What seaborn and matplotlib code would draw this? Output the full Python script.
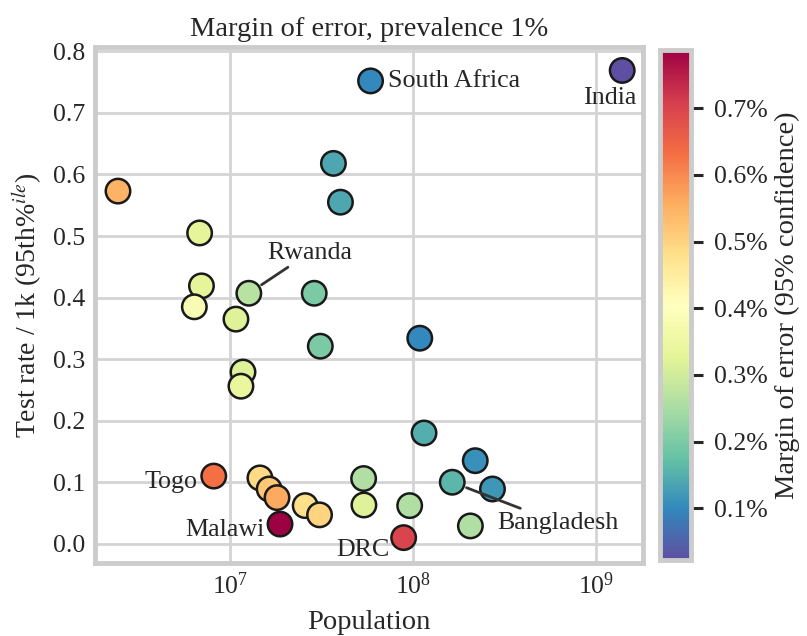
import numpy as np
import matplotlib
matplotlib.use("Agg")
import matplotlib.pyplot as plt
import matplotlib.ticker as mticker
import seaborn as sns

# Countries (population, test rate per 1k, margin of error in %)
population = [2.45e6, 6.84e6, 7.0e6, 6.4e6, 1.08e7, 1.27e7, 1.18e7, 1.15e7,
              2.89e7, 3.12e7, 3.68e7, 4.02e7, 5.87e7, 1.39e9, 1.09e8, 1.15e8,
              2.19e8, 1.64e8, 2.72e8, 2.06e8, 9.6e7, 8.9e7, 5.38e7, 5.4e7,
              8.17e6, 1.46e7, 1.64e7, 1.81e7, 1.88e7, 2.58e7, 3.09e7]
test_rate = [0.573, 0.505, 0.419, 0.385, 0.365, 0.407, 0.279, 0.256,
             0.407, 0.321, 0.618, 0.555, 0.752, 0.769, 0.334, 0.180,
             0.135, 0.100, 0.089, 0.029, 0.062, 0.010, 0.106, 0.063,
             0.110, 0.107, 0.089, 0.075, 0.032, 0.062, 0.047]
margin = [0.55, 0.33, 0.33, 0.38, 0.32, 0.27, 0.32, 0.34,
          0.20, 0.20, 0.14, 0.14, 0.10, 0.022, 0.10, 0.15,
          0.11, 0.16, 0.12, 0.26, 0.26, 0.70, 0.26, 0.32,
          0.63, 0.49, 0.52, 0.56, 0.787, 0.48, 0.50]
margin_min, margin_max = 0.022, 0.787

sns.set_theme(style="whitegrid", context="talk")
plt.rcParams["font.family"] = ["Liberation Serif", "DejaVu Serif"]
plt.rcParams["mathtext.fontset"] = "stix"

fig = plt.figure(figsize=(8.07, 6.36), dpi=100)
ax = fig.add_axes([0.118, 0.115, 0.679, 0.811])
cax = fig.add_axes([0.818, 0.119, 0.038, 0.802])

sns.scatterplot(x=population, y=test_rate, hue=margin, palette="Spectral_r",
                hue_norm=(margin_min, margin_max), s=310, edgecolor="#1a1a1a",
                linewidth=1.8, legend=False, ax=ax, zorder=3)

ax.set_xscale("log")
ax.set_xlim(1.84e6, 1.81e9)
ax.set_ylim(-0.031, 0.807)
ax.xaxis.set_major_locator(mticker.LogLocator(base=10, numticks=10))
ax.xaxis.set_minor_locator(mticker.NullLocator())
ax.set_yticks(np.arange(0, 0.81, 0.1))
ax.yaxis.set_major_formatter(mticker.FormatStrFormatter("%.1f"))
ax.tick_params(labelsize=18.5, length=0, pad=7)
for sp in ax.spines.values():
    sp.set_color("#cccccc")
    sp.set_linewidth(3.5)
ax.grid(color="#d4d4d4", linewidth=2)

ax.set_xlabel("Population", fontsize=20.5, labelpad=8)
ax.set_ylabel("Test rate / 1k (95th%$^{ile}$)", fontsize=20, labelpad=6)
ax.set_title("Margin of error, prevalence 1%", fontsize=20.5, pad=8)

# country labels
txt = dict(fontsize=18.7, color="#262626", zorder=4)
ax.text(7.3e7, 0.752, "South Africa", ha="left", va="center", **txt)
ax.text(1.19e9, 0.724, "India", ha="center", va="center", **txt)
ax.text(6.67e6, 0.100, "Togo", ha="right", va="center", **txt)
ax.text(1.54e7, 0.022, "Malawi", ha="right", va="center", **txt)
ax.text(7.48e7, -0.010, "DRC", ha="right", va="center", **txt)
line = dict(arrowstyle="-", color="#333333", lw=2, shrinkA=0, shrinkB=11)
ax.annotate("Rwanda", xy=(1.27e7, 0.407), xytext=(1.6e7, 0.455),
            ha="left", va="bottom", arrowprops=line, **txt)
ax.annotate("Bangladesh", xy=(1.64e8, 0.100), xytext=(2.9e8, 0.034),
            ha="left", va="center", arrowprops=line, **txt)

# colour bar
sm = plt.cm.ScalarMappable(cmap="Spectral_r",
                           norm=plt.Normalize(margin_min, margin_max))
cb = fig.colorbar(sm, cax=cax)
cb.set_ticks([0.1, 0.2, 0.3, 0.4, 0.5, 0.6, 0.7])
cb.ax.yaxis.set_major_formatter(mticker.FuncFormatter(lambda v, p: f"{v:.1f}%"))
cb.ax.tick_params(labelsize=18.5, length=8.5, width=2.2, color="#262626",
                  right=True, pad=8)
cb.outline.set_edgecolor("#cccccc")
cb.outline.set_linewidth(3.5)
cb.set_label("Margin of error (95% confidence)", fontsize=20.5, labelpad=5)

fig.savefig("out.png", dpi=100)
